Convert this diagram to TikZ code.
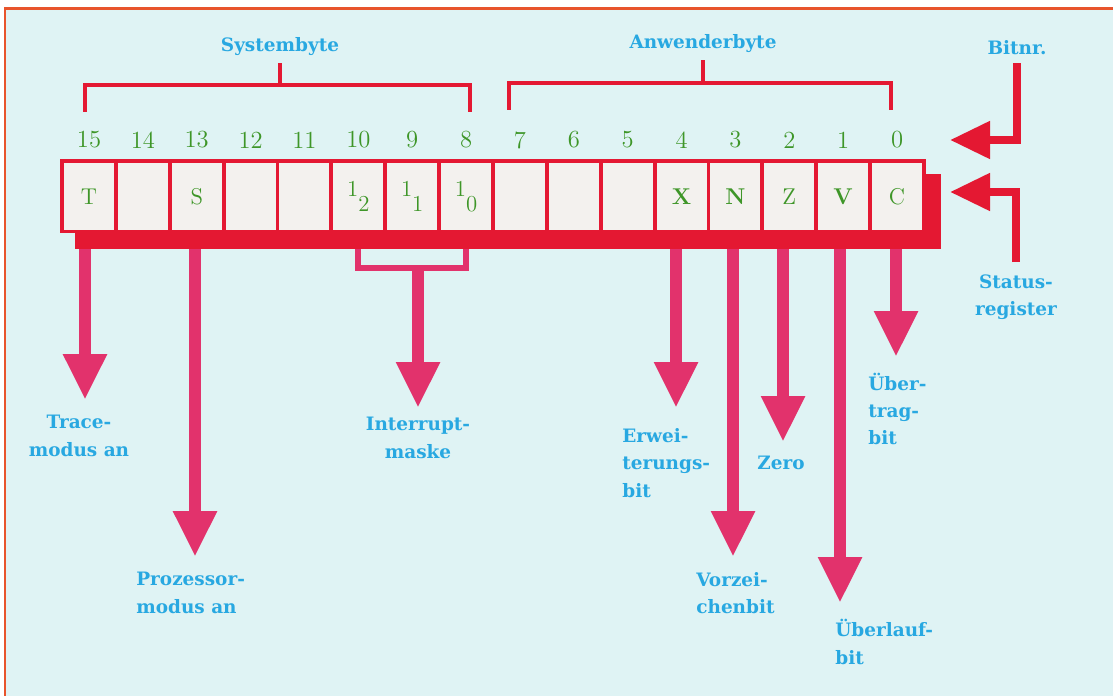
\documentclass[tikz,border=0pt]{standalone}
\usepackage{fontspec}
\newfontfamily\labfont{DejaVu Serif}
\usetikzlibrary{arrows.meta}
\definecolor{bgcyan}{RGB}{223,243,244}
\definecolor{regred}{RGB}{228,24,50}
\definecolor{flagpink}{RGB}{226,50,108}
\definecolor{txtblue}{RGB}{40,168,225}
\definecolor{bitgreen}{RGB}{62,150,40}
\definecolor{cellgray}{RGB}{243,241,238}
\definecolor{frameorange}{RGB}{232,84,44}
\newcommand{\subdig}[1]{\raisebox{-1.5ex}{#1}}
\tikzset{
  cell/.style={fill=cellgray,minimum width=1cm,minimum height=1.34cm,inner sep=0pt,text=bitgreen,font=\fontsize{13}{13}\selectfont},
  num/.style={text=bitgreen,inner sep=0pt,font=\fontsize{14}{14}\selectfont},
  desc/.style={text=txtblue,inner sep=0pt,font=\labfont\fontsize{10.5}{15.5}\selectfont\bfseries},
  brack/.style={draw=regred,line width=0.09cm},
  imask/.style={draw=flagpink,line width=0.12cm},
  flag/.style={draw=flagpink,line width=0.24cm,-{Triangle[width=0.82cm,length=0.92cm]}},
  feed/.style={draw=regred,line width=0.16cm,-{Triangle[width=0.72cm,length=0.8cm]}}
}
\begin{document}
\begin{tikzpicture}[x=0.02cm,y=-0.02cm,line join=miter]
    \useasboundingbox (0,0) rectangle (1113,696);
    \fill[white] (0,0) rectangle (1113,696);
    \fill[bgcyan] (5,9) rectangle (1113,696);
    \draw[frameorange,line width=0.06cm] (5,696) -- (5,9) -- (1113,9);
    \fill[regred] (75,174) rectangle (941,249);
    \fill[regred] (60,159) rectangle (926,233);
    \coordinate (base) at (0,249);
    \foreach \b/\t in {15/T,14/{},13/S,12/{},11/{},10/{1\subdig{2}},9/{1\subdig{1}},8/{1\subdig{0}},7/{},6/{},5/{},4/\textbf{X},3/\textbf{N},2/Z,1/\textbf{V},0/C}{
        \node[cell] (c\b) at ({89+53.87*(15-\b)},196.5) {\t};
        \node[num] (n\b) at ({89+53.87*(15-\b)},140) {\b};
    }
    \node[desc] (sysb) at (280,47) {Systembyte};
    \node[desc] (anwb) at (703,44) {Anwenderbyte};
    \node[desc] (bitnr) at (1017,48) {Bitnr.};
    \node[desc,align=center] (status) at (1016,297) {Status-\\register};
    \node[desc,align=center] (trace) at (79,436) {Trace-\\modus an};
    \node[desc,align=left,anchor=west] (proz) at (136,593) {Prozessor-\\modus an};
    \node[desc,align=center] (intr) at (418,438) {Interrupt-\\maske};
    \node[desc,align=left,anchor=west] (erw) at (622,463) {Erwei-\\terungs-\\bit};
    \node[desc,align=left,anchor=west] (vorz) at (696,593) {Vorzei-\\chenbit};
    \node[desc] (zero) at (781,463) {Zero};
    \node[desc,align=left,anchor=west] (uelauf) at (835,642) {Überlauf-\\bit};
    \node[desc,align=left,anchor=west] (uetrag) at (868,409) {Über-\\trag-\\bit};
    \coordinate (sysm) at (280,85);
    \coordinate (anwm) at (703,83);
    \draw[brack] (85,112) |- (470,85) -- (470,112);
    \draw[brack] (509,110) |- (891,83) -- (891,110);
    \draw[brack,shorten <=0.14cm] (sysb.south) -- (sysm);
    \draw[brack,shorten <=0.14cm] (anwb.south) -- (anwm);
    \coordinate (bitin) at (950,140);
    \coordinate (statin) at (950,192);
    \draw[feed,shorten <=0.16cm] (bitnr.south) |- (bitin);
    \draw[feed,shorten <=0.24cm] (status.north) |- (statin);
    \foreach \n/\x/\y in {tT/85/400,tP/195/557,tE/676/408,tV/733/557,tZ/783/442,tU/840/603,tC/896/357}{
        \coordinate (\n) at (\x,\y);
        \draw[flag] (\n |- base) -- (\n);
    }
    \coordinate (imid) at (418,268);
    \coordinate (tI) at (418,408);
    \draw[imask] (c10 |- base) |- (imid) -| (c8 |- base);
    \draw[flag] (imid) -- (tI);
\end{tikzpicture}
\end{document}
